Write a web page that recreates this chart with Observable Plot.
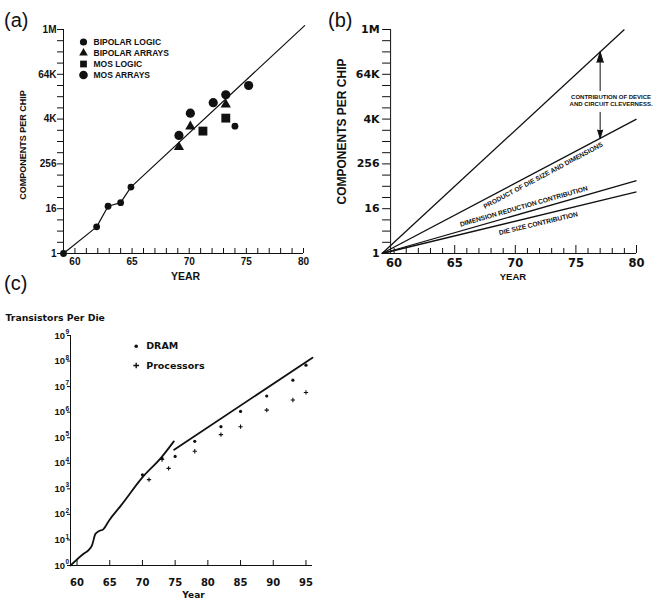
<!DOCTYPE html>
<html>
<head>
<meta charset="utf-8">
<title>Components per chip</title>
<script src="https://cdn.jsdelivr.net/npm/d3@7"></script>
<script src="https://cdn.jsdelivr.net/npm/@observablehq/plot@0.6"></script>
<style>
  html, body { margin: 0; padding: 0; background: #fff; }
  #page { position: relative; width: 656px; height: 610px; overflow: hidden; background: #fff; color: #111; }
  .panel { position: absolute; }
  .panel svg { display: block; overflow: visible; }
  .tag { position: absolute; font-family: "Liberation Sans", Arial, sans-serif; font-size: 20px; line-height: 1; color: #111; }
</style>
</head>
<body>
<div id="page">
  <div id="panelA" class="panel" style="left:0;top:0"></div>
  <div id="panelB" class="panel" style="left:330px;top:0"></div>
  <div id="panelC" class="panel" style="left:0;top:300px"></div>
  <div class="tag" style="left:4px;top:10px">(a)</div>
  <div class="tag" style="left:328px;top:10px">(b)</div>
  <div class="tag" style="left:4px;top:273px">(c)</div>
</div>
<script>
const ARIAL = "'Liberation Sans', Arial, Helvetica, sans-serif";
const DEJAVU = "'DejaVu Sans', Verdana, sans-serif";
const INK = "#111";

// ---------- (a) components per chip, by year ----------
const aBipolarLogicYear   = [59, 61.9, 62.9, 64.0, 64.9, 74.0];
const aBipolarLogicCount  = [1, 5.2, 18.6, 23.3, 61, 2650];
const aBipolarArraysYear  = [69.1, 70.1, 73.2];
const aBipolarArraysCount = [724, 2600, 10100];
const aMosLogicYear       = [71.2, 73.2];
const aMosLogicCount      = [1950, 4350];
const aMosArraysYear      = [69.1, 70.1, 72.1, 73.2, 75.2];
const aMosArraysCount     = [1490, 5900, 11300, 18500, 32800];
// trend: through the early bipolar points, then doubling every year
const aTrendYear  = [59, 61.9, 62.9, 64.0, 64.9, 80.1];
const aTrendCount = [1, 5.2, 18.6, 23.3, 61, 1330000];
const aSeriesNames = ["BIPOLAR LOGIC", "BIPOLAR ARRAYS", "MOS LOGIC", "MOS ARRAYS"];
const aYTickValues = [1, 16, 256, 4096, 65536, 1048576];
const aYTickLabels = ["1", "16", "256", "4K", "64K", "1M"];
const aXTickValues = [60, 65, 70, 75, 80];

// ---------- (b) contributions to the growth ----------
const bStartYear  = 59;
const bStartCount = 1;
const bLineEndYear  = [79, 80, 80, 80];
const bLineEndCount = [1048576, 4096, 90.5, 45.3];
const bArrowYear  = [77, 77];
const bArrowTail  = [24000, 6200];
const bArrowTip   = [262144, 1250];
const bNoteText   = ["CONTRIBUTION OF DEVICE\nAND CIRCUIT CLEVERNESS."];
const bNoteYear   = 77.9;
const bNoteCount  = 12900;
const bLineLabels = ["PRODUCT OF DIE SIZE AND DIMENSIONS", "DIMENSION REDUCTION CONTRIBUTION", "DIE SIZE CONTRIBUTION"];
const bLineLabelYear  = [72.3, 70.7, 71.9];
const bLineLabelCount = [125, 18.5, 6.4];
const bLineLabelAngle = [-28, -16, -13.6];
const bXTickValues = [60, 65, 70, 75, 80];

// ---------- (c) transistors per die ----------
const cDramYear  = [70, 73, 75, 78, 82, 85, 89, 93, 95];
const cDramCount = [3500, 15500, 18600, 72000, 270000, 1070000, 4300000, 17800000, 69000000];
const cProcYear  = [71, 73, 74, 78, 82, 85, 89, 93, 95];
const cProcCount = [2300, 14000, 6300, 29500, 132000, 270000, 1200000, 3000000, 5900000];
const cEarlyYear  = [59, 61, 61.8, 62.3, 62.8, 63.3, 64, 64.9, 66.7, 70, 72.9, 74.8];
const cEarlyCount = [1, 2.9, 4.1, 6.3, 17, 22, 26, 58, 220, 2800, 17000, 72000];
const cLateYear   = [74.85, 96];
const cLateCount  = [34000, 135000000];
const cYTickExponents = [0, 1, 2, 3, 4, 5, 6, 7, 8, 9];
const cXTickValues = [60, 65, 70, 75, 80, 85, 90, 95];
const cLegend = ["DRAM", "Processors"];

const zip = (xs, ys) => xs.map((x, i) => ({year: x, count: ys[i]}));
const powersOfTwo = d3.range(0, 21).map(e => 2 ** e);

// ---------- panel (a) ----------
(function drawA() {
  const W = 330, H = 285, mt = 29, mb = 32, ml = 63, mr = 27;
  const innerH = H - mt - mb;
  const labelOf = new Map(aYTickValues.map((v, i) => [v, aYTickLabels[i]]));
  const series = [
    {data: zip(aBipolarLogicYear, aBipolarLogicCount),   symbol: "circle",   r: 3.4, legendR: 3.6},
    {data: zip(aBipolarArraysYear, aBipolarArraysCount), symbol: "triangle", r: 3.8, legendR: 3.2},
    {data: zip(aMosLogicYear, aMosLogicCount),           symbol: "square",   r: 5.0, legendR: 3.8},
    {data: zip(aMosArraysYear, aMosArraysCount),         symbol: "circle",   r: 4.6, legendR: 4.3}
  ];
  const chart = Plot.plot({
    width: W, height: H, marginTop: mt, marginBottom: mb, marginLeft: ml, marginRight: mr,
    x: {domain: [59, 80]},
    y: {type: "log", base: 2, domain: [1, 2 ** 20]},
    style: {color: INK, background: "white", fontFamily: ARIAL, fontWeight: "bold", overflow: "visible"},
    marks: [
      Plot.ruleX([59], {stroke: INK}),
      Plot.ruleY([1], {stroke: INK}),
      Plot.ruleX(d3.range(59, 81), {x: d => d, insetTop: innerH - 5, stroke: INK}),
      Plot.axisY({ticks: powersOfTwo, tickSize: 6, tickPadding: 1, tickFormat: d => labelOf.get(d) ?? "",
        fontFamily: ARIAL, fontSize: 10, fontWeight: "bold", label: null}),
      Plot.axisX({ticks: aXTickValues, tickSize: 0, tickPadding: 4, tickFormat: d => `${d}`,
        fontFamily: ARIAL, fontSize: 10, fontWeight: "bold", label: null}),
      Plot.line(zip(aTrendYear, aTrendCount), {x: "year", y: "count", stroke: INK, strokeWidth: 1.2}),
      ...series.map(s => Plot.dot(s.data, {x: "year", y: "count", symbol: s.symbol, r: s.r, fill: INK, stroke: "none"})),
      ...aSeriesNames.map((name, i) => Plot.dot([name], {frameAnchor: "top-left", dx: 20, dy: 12.5 + 11 * i,
        symbol: series[i].symbol, r: series[i].legendR, fill: INK, stroke: "none"})),
      ...aSeriesNames.map((name, i) => Plot.text([name], {frameAnchor: "top-left", dx: 30, dy: 12.5 + 11 * i,
        text: d => d, textAnchor: "start", lineAnchor: "middle", fontFamily: ARIAL, fontSize: 8.5, fontWeight: "bold", fill: INK})),
      Plot.text(["COMPONENTS PER CHIP"], {frameAnchor: "left", dx: -40, dy: 3.5, rotate: -90, text: d => d,
        textAnchor: "middle", lineAnchor: "middle", fontFamily: ARIAL, fontSize: 9, fontWeight: "bold", fill: INK}),
      Plot.text(["YEAR"], {frameAnchor: "bottom", dx: 2, dy: 23, text: d => d,
        textAnchor: "middle", lineAnchor: "middle", fontFamily: ARIAL, fontSize: 10.5, fontWeight: "bold", fill: INK})
    ]
  });
  document.getElementById("panelA").append(chart);
})();

// ---------- panel (b) ----------
(function drawB() {
  const W = 326, H = 285, mt = 29, mb = 32, ml = 51.5, mr = 20;
  const innerH = H - mt - mb;
  const axisShift = 8.6;
  const labelOf = new Map(aYTickValues.map((v, i) => [v, aYTickLabels[i]]));
  const lines = bLineEndYear.map((y, i) => ({x1: bStartYear, y1: bStartCount, x2: y, y2: bLineEndCount[i]}));
  const arrows = bArrowYear.map((x, i) => ({x, tail: bArrowTail[i], tip: bArrowTip[i]}));
  const years = d3.range(60, 81);
  const chart = Plot.plot({
    width: W, height: H, marginTop: mt, marginBottom: mb, marginLeft: ml, marginRight: mr,
    x: {domain: [59, 80]},
    y: {type: "log", base: 2, domain: [1, 2 ** 20]},
    style: {color: INK, background: "white", fontFamily: ARIAL, fontWeight: "bold", overflow: "visible"},
    marks: [
      Plot.ruleX([59], {stroke: INK, dx: axisShift}),
      Plot.ruleY([1], {stroke: INK}),
      Plot.ruleX(years.filter(d => d % 5 !== 0 || d === 60), {x: d => d, insetTop: innerH - 5, stroke: INK}),
      Plot.ruleX(years.filter(d => d % 5 === 0 && d !== 60), {x: d => d, insetTop: innerH - 8, stroke: INK}),
      Plot.axisY({ticks: powersOfTwo, tickSize: 8, tickPadding: 3, dx: axisShift, tickFormat: d => labelOf.get(d) ?? "",
        fontFamily: DEJAVU, fontSize: 11, fontWeight: "bold", label: null}),
      Plot.axisX({ticks: bXTickValues, tickSize: 0, tickPadding: 5, tickFormat: d => `${d}`,
        fontFamily: DEJAVU, fontSize: 11.5, fontWeight: "bold", label: null}),
      Plot.link(lines, {x1: "x1", y1: "y1", x2: "x2", y2: "y2", stroke: INK, strokeWidth: 1.3}),
      Plot.arrow(arrows, {x: "x", y1: "tail", y2: "tip", stroke: INK, fill: INK, strokeWidth: 1,
        headAngle: 34, headLength: 16.5}),
      Plot.text(bNoteText, {x: () => bNoteYear, y: () => bNoteCount, text: d => d, lineHeight: 1.1,
        fontFamily: ARIAL, fontSize: 6, fontWeight: "bold", fill: INK}),
      ...bLineLabels.map((label, i) => Plot.text([label], {x: () => bLineLabelYear[i], y: () => bLineLabelCount[i],
        text: d => d, rotate: bLineLabelAngle[i], fontFamily: ARIAL, fontSize: 6.7, fontWeight: "bold", fill: INK})),
      Plot.text(["COMPONENTS PER CHIP"], {frameAnchor: "left", dx: -39.7, dy: -10, rotate: -90, text: d => d,
        textAnchor: "middle", lineAnchor: "middle", fontFamily: ARIAL, fontSize: 12, fontWeight: "bold", fill: INK}),
      Plot.text(["YEAR"], {frameAnchor: "bottom", dx: 3.7, dy: 23, text: d => d,
        textAnchor: "middle", lineAnchor: "middle", fontFamily: ARIAL, fontSize: 9.5, fontWeight: "bold", fill: INK})
    ]
  });
  document.getElementById("panelB").append(chart);
})();

// ---------- panel (c) ----------
(function drawC() {
  const W = 330, H = 310, mt = 35, mb = 45, ml = 70, mr = 18;
  const innerH = H - mt - mb;
  const decades = cYTickExponents.map(e => 10 ** e);
  const expOf = new Map(cYTickExponents.map(e => [10 ** e, `${e}`]));
  const chart = Plot.plot({
    width: W, height: H, marginTop: mt, marginBottom: mb, marginLeft: ml, marginRight: mr,
    x: {domain: [59, 96]},
    y: {type: "log", domain: [1, 1e9]},
    style: {color: INK, background: "white", fontFamily: DEJAVU, fontWeight: "bold", overflow: "visible"},
    marks: [
      Plot.ruleX([59], {stroke: INK}),
      Plot.ruleY([1], {stroke: INK}),
      Plot.ruleX(cXTickValues, {x: d => d, insetTop: innerH - 5, stroke: INK}),
      Plot.axisY({ticks: decades, tickSize: 3, tickPadding: 2.5, tickFormat: () => "10",
        fontFamily: ARIAL, fontSize: 9.5, fontWeight: "bold", label: null}),
      Plot.axisY({ticks: decades, tickSize: 0, tickPadding: 1.5, dy: -3.5, tickFormat: d => expOf.get(d),
        fontFamily: ARIAL, fontSize: 6.5, fontWeight: "bold", label: null}),
      Plot.axisX({ticks: cXTickValues, tickSize: 0, tickPadding: 13, tickFormat: d => `${d}`,
        fontFamily: DEJAVU, fontSize: 10, fontWeight: "bold", label: null}),
      Plot.line(zip(cEarlyYear, cEarlyCount), {x: "year", y: "count", curve: "monotone-x", stroke: INK, strokeWidth: 1.8}),
      Plot.line(zip(cLateYear, cLateCount), {x: "year", y: "count", stroke: INK, strokeWidth: 1.8}),
      Plot.dot(zip(cDramYear, cDramCount), {x: "year", y: "count", r: 1.6, fill: INK, stroke: "none"}),
      Plot.dot(zip(cProcYear, cProcCount), {x: "year", y: "count", symbol: "plus", r: 1.5, stroke: INK, strokeWidth: 1.1}),
      Plot.dot([cLegend[0]], {frameAnchor: "top-left", dx: 65.7, dy: 10.7, r: 1.8, fill: INK, stroke: "none"}),
      Plot.dot([cLegend[1]], {frameAnchor: "top-left", dx: 65.7, dy: 30, symbol: "plus", r: 2, stroke: INK, strokeWidth: 1.4}),
      ...cLegend.map((name, i) => Plot.text([name], {frameAnchor: "top-left", dx: 75.7, dy: i === 0 ? 10.7 : 30,
        text: d => d, textAnchor: "start", lineAnchor: "middle", fontFamily: DEJAVU, fontSize: 9.5, fontWeight: "bold", fill: INK})),
      Plot.text(["Transistors Per Die"], {frameAnchor: "top-left", dx: -65, dy: -17.3, text: d => d, textAnchor: "start",
        lineAnchor: "middle", fontFamily: DEJAVU, fontSize: 9.3, fontWeight: "bold", fill: INK}),
      Plot.text(["Year"], {frameAnchor: "bottom", dx: 2, dy: 30, text: d => d,
        textAnchor: "middle", lineAnchor: "middle", fontFamily: DEJAVU, fontSize: 9, fontWeight: "bold", fill: INK})
    ]
  });
  document.getElementById("panelC").append(chart);
})();
</script>
</body>
</html>
